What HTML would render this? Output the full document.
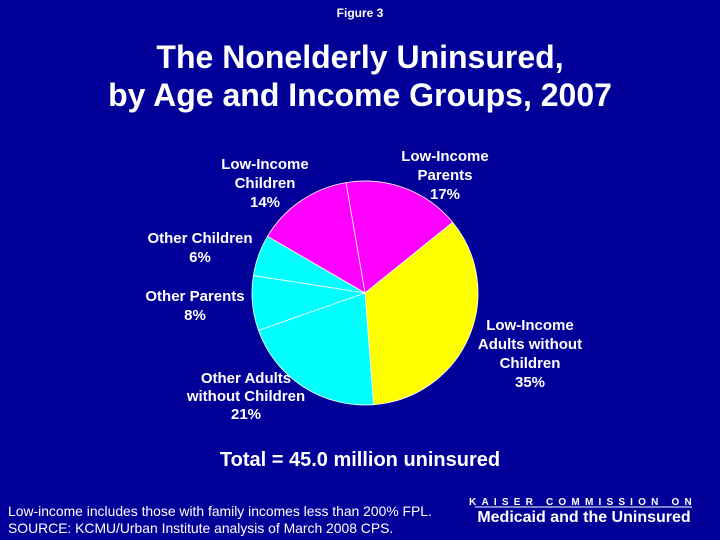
<!DOCTYPE html>
<html><head><meta charset="utf-8"><style>
body{margin:0;width:720px;height:540px;background:#00009c;overflow:hidden;font-family:"Liberation Sans",Arial,sans-serif;color:#fff}
svg{position:absolute;left:0;top:0}
</style></head><body>
<svg width="720" height="540">
<rect width="720" height="540" fill="#000099"/>
<text x="360" y="17" font-size="12" font-weight="bold" text-anchor="middle" fill="#fff">Figure 3</text>
<text x="360" y="68" font-size="32" font-weight="bold" text-anchor="middle" fill="#fff">The Nonelderly Uninsured,</text>
<text x="360" y="106" font-size="32" font-weight="bold" text-anchor="middle" fill="#fff">by Age and Income Groups, 2007</text>
<g id="slices"></g>
<g font-size="15" font-weight="bold" fill="#fff" text-anchor="middle">
<text x="445" y="161"><tspan x="445">Low-Income</tspan><tspan x="445" dy="19">Parents</tspan><tspan x="445" dy="19">17%</tspan></text>
<text x="265" y="169"><tspan x="265">Low-Income</tspan><tspan x="265" dy="19">Children</tspan><tspan x="265" dy="19">14%</tspan></text>
<text x="200" y="243"><tspan x="200">Other Children</tspan><tspan x="200" dy="19">6%</tspan></text>
<text x="195" y="301"><tspan x="195">Other Parents</tspan><tspan x="195" dy="19">8%</tspan></text>
<text x="530" y="330"><tspan x="530">Low-Income</tspan><tspan x="530" dy="19">Adults without</tspan><tspan x="530" dy="19">Children</tspan><tspan x="530" dy="19">35%</tspan></text>
<text x="246" y="383"><tspan x="246">Other Adults</tspan><tspan x="246" dy="18">without Children</tspan><tspan x="246" dy="18">21%</tspan></text>
</g>
<text x="360" y="466" font-size="20" font-weight="bold" text-anchor="middle" fill="#fff">Total = 45.0 million uninsured</text>
<text x="8" y="516" font-size="13.9" fill="#fff">Low-income includes those with family incomes less than 200% FPL.</text>
<text x="8" y="533" font-size="13.9" fill="#fff">SOURCE: KCMU/Urban Institute analysis of March 2008 CPS.</text>
<text x="583" y="505" font-size="10" font-weight="bold" text-anchor="middle" fill="#fff" letter-spacing="5.2">KAISER COMMISSION ON</text>
<line x1="475" y1="507" x2="692" y2="507" stroke="#fff" stroke-width="1"/>
<text x="584" y="522" font-size="16" font-weight="bold" text-anchor="middle" fill="#fff">Medicaid and the Uninsured</text>
</svg>
<script>
const categories = ["Low-Income Parents","Low-Income Adults without Children","Other Adults without Children","Other Parents","Other Children","Low-Income Children"];
const values = [17,35,21,8,6,14];
const colors = ["#ff00ff","#ffff00","#00ffff","#00ffff","#00ffff","#ff00ff"];
const cx=365, cy=293, rx=113, ry=112, startDeg=-9.7;
const g=document.getElementById('slices');
const total=values.reduce((a,b)=>a+b,0);
let a=startDeg;
function pt(d){const r=d*Math.PI/180;return [cx+rx*Math.sin(r), cy-ry*Math.cos(r)];}
values.forEach((v,i)=>{
  const sweep=v/total*360, b=a+sweep;
  const p1=pt(a), p2=pt(b);
  const p=document.createElementNS('http://www.w3.org/2000/svg','path');
  p.setAttribute('d',`M${cx},${cy}L${p1[0]},${p1[1]}A${rx},${ry} 0 ${sweep>180?1:0} 1 ${p2[0]},${p2[1]}Z`);
  p.setAttribute('fill',colors[i]);
  p.setAttribute('stroke','#ffffff');
  p.setAttribute('stroke-width','0.8');
  
  
  g.appendChild(p);
  a=b;
});
</script>
</body></html>
